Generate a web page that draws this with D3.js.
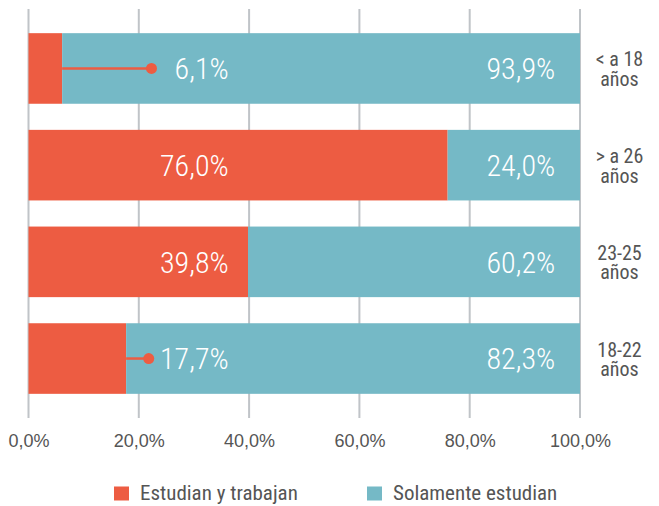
<!DOCTYPE html>
<html>
<head>
<meta charset="utf-8">
<script src="https://cdn.jsdelivr.net/npm/d3@7"></script>
<style>
  html, body { margin: 0; padding: 0; background: #fff; }
  svg { display: block; }
</style>
</head>
<body>
<svg id="chart" width="659" height="506"></svg>
<script>
// ---- data ----
const categories = ["< a 18 años", "> a 26 años", "23-25 años", "18-22 años"];
const categoryLines = [["< a 18", "años"], ["> a 26", "años"], ["23-25", "años"], ["18-22", "años"]];
const seriesNames = ["Estudian y trabajan", "Solamente estudian"];
const trabajan = [6.1, 76.0, 39.8, 17.7];
const soloEstudian = [93.9, 24.0, 60.2, 82.3];
const tickValues = [0, 20, 40, 60, 80, 100];
const tickLabels = ["0,0%", "20,0%", "40,0%", "60,0%", "80,0%", "100,0%"];

const colors = ["#ed5c42", "#75b9c6"];
const narrow = "'Liberation Sans Narrow', 'Arial Narrow', 'Roboto Condensed', sans-serif";
const regular = "'Liberation Sans', Arial, sans-serif";

const svg = d3.select("#chart");
const x = d3.scaleLinear().domain([0, 100]).range([28.5, 580]);
const y = d3.scaleBand().domain(categories).range([9, 418]).paddingInner(0.27).paddingOuter(0.25);

const fmt = v => v.toFixed(1).replace(".", ",") + "%";

// gridlines
svg.append("g").selectAll("line").data(tickValues).join("line")
  .attr("x1", d => x(d)).attr("x2", d => x(d))
  .attr("y1", 9).attr("y2", 418)
  .attr("stroke", "#c0c4c8").attr("stroke-width", 2);

// stacked data
const stackData = categories.map((c, i) => ({ cat: c, a: trabajan[i], b: soloEstudian[i] }));
const stacked = d3.stack().keys(["a", "b"])(stackData);

const bh = y.bandwidth();
svg.append("g").selectAll("g").data(stacked).join("g")
  .attr("fill", (d, i) => colors[i])
  .selectAll("rect").data(d => d).join("rect")
  .attr("x", d => x(d[0]))
  .attr("width", d => x(d[1]) - x(d[0]))
  .attr("y", d => y(d.data.cat))
  .attr("height", bh);

// labels
const labelRight = x(36.3);
const lab = svg.append("g").attr("font-family", narrow).attr("font-size", 30)
  .attr("font-weight", 300).attr("fill", "#fff");
categories.forEach((c, i) => {
  const cy = y(c) + bh / 2;
  const v = trabajan[i];
  if (v < 20) {
    const dotX = i === 0 ? x(22.3) : x(21.8);
    svg.append("line")
      .attr("x1", x(v)).attr("x2", dotX)
      .attr("y1", cy).attr("y2", cy)
      .attr("stroke", colors[0]).attr("stroke-width", 2.5);
    svg.append("circle")
      .attr("cx", dotX).attr("cy", cy).attr("r", 5.5)
      .attr("fill", colors[0]);
  }
  lab.append("text").attr("x", labelRight).attr("y", cy).attr("dy", "0.36em")
    .attr("text-anchor", "end").text(fmt(v));
  lab.append("text").attr("x", x(95.5)).attr("y", cy).attr("dy", "0.36em")
    .attr("text-anchor", "end").text(fmt(soloEstudian[i]));
});

// category labels (right)
const cat = svg.append("g").attr("font-family", narrow).attr("font-size", 20)
  .attr("fill", "#555");
categories.forEach((c, i) => {
  const cy = y(c) + bh / 2;
  const t = cat.append("text").attr("text-anchor", "middle");
  t.append("tspan").attr("x", 619.5).attr("y", cy - 2).text(categoryLines[i][0]);
  t.append("tspan").attr("x", 619.5).attr("y", cy + 17.5).text(categoryLines[i][1]);
});

// x axis
const axis = d3.axisBottom(x).tickValues(tickValues)
  .tickFormat((d, i) => tickLabels[i]).tickSize(0).tickPadding(0);
const ax = svg.append("g").attr("transform", "translate(0,446.5)").call(axis);
ax.select(".domain").remove();
ax.selectAll("text").attr("font-family", regular).attr("font-size", 18)
  .attr("fill", "#555").attr("dy", 0);

// legend
const leg = svg.append("g");
const legX = [114, 367];
seriesNames.forEach((n, i) => {
  leg.append("rect").attr("x", legX[i]).attr("y", 486.5).attr("width", 15).attr("height", 14)
    .attr("fill", colors[i]);
  leg.append("text").attr("x", legX[i] + 26).attr("y", 500)
    .attr("font-family", narrow).attr("font-size", 21)
    .attr("fill", "#555").text(n);
});
</script>
</body>
</html>
